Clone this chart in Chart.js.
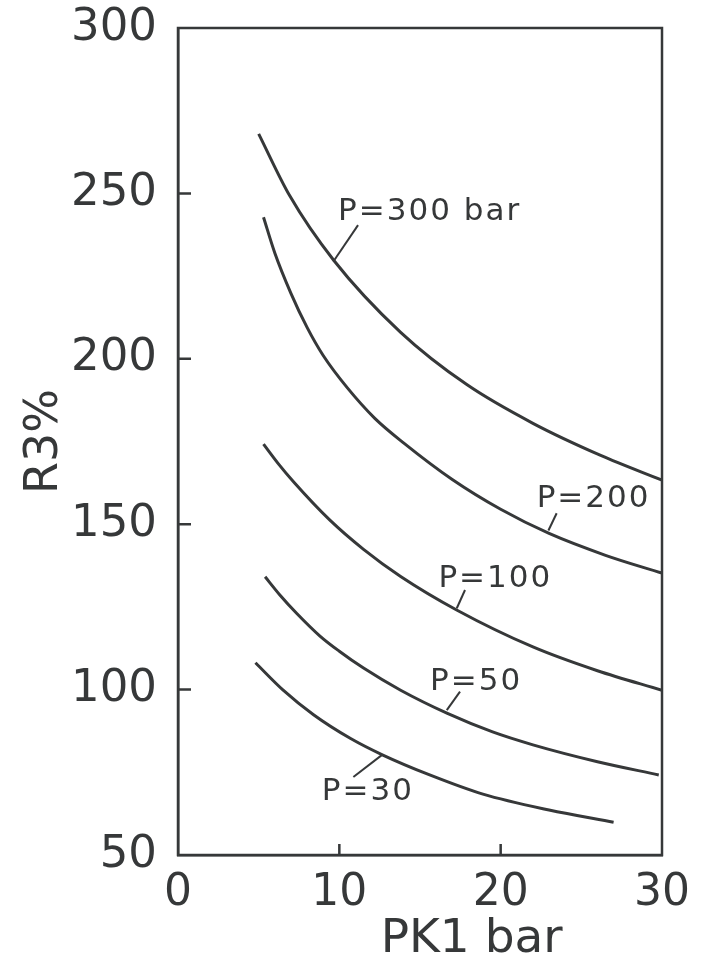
<!DOCTYPE html>
<html><head><meta charset="utf-8">
<script src="https://cdn.jsdelivr.net/npm/chart.js@4.4.0/dist/chart.umd.min.js"></script>
<style>html,body{margin:0;padding:0;background:#fff;}#wrap{width:702px;height:962px;}</style>
</head><body><div id="wrap"><canvas id="c" width="702" height="962"></canvas></div>
<script>
// ---- data ----
const seriesNames = ['P=300 bar', 'P=200', 'P=100', 'P=50', 'P=30'];
const p300X = [5.0, 6.9, 9.65, 13.8, 17.9, 22.0, 26.2, 30.0];
const p300Y = [268, 249.5, 229.8, 208, 192.2, 180.5, 170.8, 163.3];
const p200X = [5.3, 6.0, 7.0, 8.0, 9.0, 10.5, 12.2, 14.0, 17.0, 20.0, 23.0, 26.5, 30.0];
const p200Y = [242.8, 232, 219.8, 209.5, 201, 191.2, 182, 174.5, 163.5, 154.5, 147.2, 140.6, 135.2];
const p100X = [5.3, 6.2, 7.2, 9.4, 11.5, 13.8, 17.3, 22.0, 26.0, 30.0];
const p100Y = [174.2, 168.4, 162.6, 151.3, 142.4, 134.2, 124, 112.9, 105.7, 99.8];
const p50X = [5.4, 6.3, 7.35, 8.8, 10.0, 11.5, 13.8, 16.7, 19.5, 22.0, 26.0, 29.8];
const p50Y = [134.1, 128.7, 123.1, 116.2, 111.6, 106.5, 99.8, 92.8, 87.2, 83.3, 78.2, 74.2];
const p30X = [4.8, 6.5, 8.4, 10.7, 12.7, 15.6, 18.9, 23.0, 27.0];
const p30Y = [108.1, 99.9, 92.4, 85.2, 80.2, 74.2, 68.4, 63.6, 59.9];
const xTicks = [0, 10, 20, 30];
const yTicks = [50, 100, 150, 200, 250, 300];
const xTitle = 'PK1 bar';
const yTitle = 'R3%';

// ---- label placement (data coordinates) ----
const labelPlacement = [
  { text: seriesNames[0], x: 9.92, y: 244.4, from: [11.16, 240.4], to: [9.63, 229.4] },
  { text: seriesNames[1], x: 22.23, y: 157.6, from: [23.47, 153.3], to: [22.96, 148.1] },
  { text: seriesNames[2], x: 16.14, y: 133.4, from: [17.79, 130.1], to: [17.28, 124.6] },
  { text: seriesNames[3], x: 15.62, y: 102.4, from: [17.48, 99.4], to: [16.66, 93.8] },
  { text: seriesNames[4], x: 8.91,  y: 69.2,  from: [10.87, 73.6], to: [12.63, 80.2] }
];

const INK = '#363839';
const FONT = 'DejaVu Sans';
const zip = (xs, ys) => xs.map((x, i) => ({ x: x, y: ys[i] }));
const allX = [p300X, p200X, p100X, p50X, p30X];
const allY = [p300Y, p200Y, p100Y, p50Y, p30Y];

const datasets = seriesNames.map((n, i) => ({
  label: n,
  data: zip(allX[i], allY[i]),
  showLine: true,
  borderColor: INK,
  borderWidth: 3,
  pointRadius: 0,
  cubicInterpolationMode: 'monotone',
  fill: false
}));

const decor = {
  id: 'decor',
  afterDraw(chart) {
    const { ctx, chartArea: a, scales: { x, y } } = chart;
    ctx.save();
    ctx.strokeStyle = INK;
    ctx.lineWidth = 2.5;
    ctx.strokeRect(a.left, a.top, a.right - a.left, a.bottom - a.top);
    // inner tick marks
    ctx.beginPath();
    yTicks.slice(1, -1).forEach(v => {
      const py = y.getPixelForValue(v);
      ctx.moveTo(a.left, py); ctx.lineTo(a.left + 13, py);
    });
    xTicks.slice(1, -1).forEach(v => {
      const px = x.getPixelForValue(v);
      ctx.moveTo(px, a.bottom); ctx.lineTo(px, a.bottom - 11);
    });
    ctx.stroke();
    // curve labels + leaders
    ctx.fillStyle = INK;
    ctx.font = '31px "' + FONT + '"';
    try { ctx.letterSpacing = '2px'; } catch (e) {}
    ctx.textBaseline = 'middle';
    ctx.textAlign = 'left';
    ctx.lineWidth = 2;
    labelPlacement.forEach(l => {
      ctx.fillText(l.text, x.getPixelForValue(l.x), y.getPixelForValue(l.y));
      ctx.beginPath();
      ctx.moveTo(x.getPixelForValue(l.from[0]), y.getPixelForValue(l.from[1]));
      ctx.lineTo(x.getPixelForValue(l.to[0]), y.getPixelForValue(l.to[1]));
      ctx.stroke();
    });
    try { ctx.letterSpacing = '0px'; } catch (e) {}
    // x axis title
    ctx.font = '47px "' + FONT + '"';
    ctx.textBaseline = 'alphabetic';
    ctx.textAlign = 'center';
    ctx.fillText(xTitle, x.getPixelForValue(18.2), 952);
    ctx.restore();
  }
};

new Chart(document.getElementById('c'), {
  type: 'scatter',
  data: { datasets: datasets },
  plugins: [decor],
  options: {
    responsive: false,
    animation: false,
    devicePixelRatio: 1,
    layout: { padding: { top: 28, right: 40, bottom: 0, left: 0 } },
    plugins: { legend: { display: false }, tooltip: { enabled: false } },
    scales: {
      x: {
        type: 'linear', min: 0, max: 30,
        afterBuildTicks: s => { s.ticks = xTicks.map(v => ({ value: v })); },
        afterFit: s => { s.height = 107; s.paddingLeft = 0; s.paddingRight = 0; },
        grid: { display: false, drawTicks: false },
        border: { display: true, color: INK, width: 2.5 },
        ticks: { color: INK, font: { family: FONT, size: 44 }, padding: 12, maxRotation: 0 }
      },
      y: {
        type: 'linear', min: 50, max: 300,
        afterBuildTicks: s => { s.ticks = yTicks.map(v => ({ value: v })); },
        afterFit: s => { s.width = 178; s.paddingTop = 0; s.paddingBottom = 0; },
        grid: { display: false, drawTicks: false },
        border: { display: true, color: INK, width: 2.5 },
        ticks: { color: INK, font: { family: FONT, size: 45 }, padding: 21 },
        title: { display: true, text: yTitle, color: INK, font: { family: FONT, size: 46 }, padding: { top: 17, bottom: 0 } }
      }
    }
  }
});
</script></body></html>
